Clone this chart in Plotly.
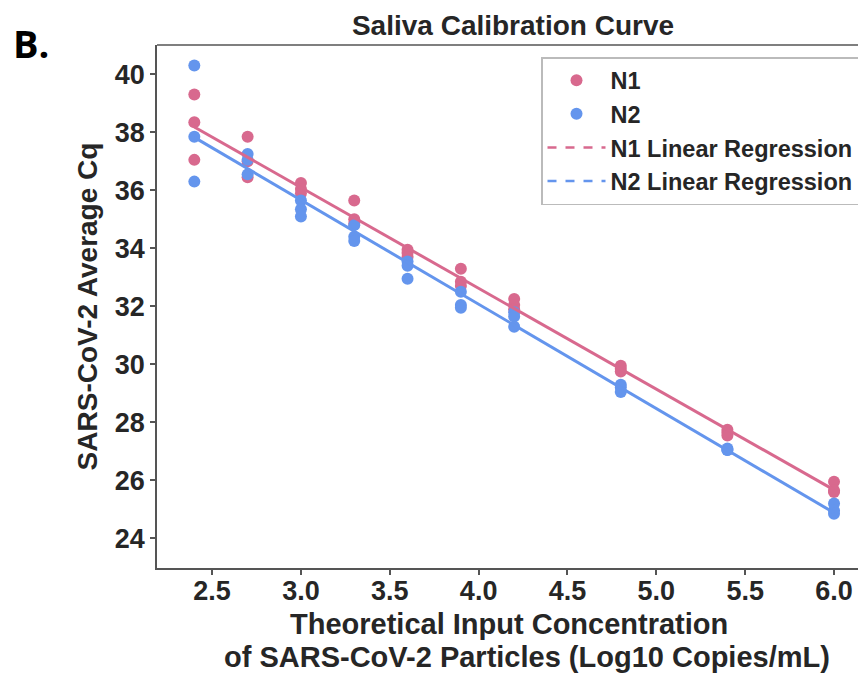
import numpy as np
import plotly.graph_objects as go

# log10 copies/mL, triplicate measurements
conc = [2.4, 2.7, 3.0, 3.3, 3.6, 3.9, 4.2, 4.8, 5.4, 6.0]
n1_rep1 = [39.3, 37.85, 36.25, 35.65, 33.95, 33.3, 32.25, 29.95, 27.75, 25.95]
n1_rep2 = [38.35, 37.0, 36.05, 35.0, 33.85, 32.85, 32.05, 29.85, 27.65, 25.65]
n1_rep3 = [37.05, 36.45, 35.9, 34.85, 33.7, 32.7, 31.9, 29.75, 27.55, 25.6]
n2_rep1 = [40.3, 37.25, 35.65, 34.8, 33.55, 32.5, 31.8, 29.3, 27.1, 25.2]
n2_rep2 = [37.85, 37.05, 35.35, 34.4, 33.4, 32.05, 31.65, 29.2, 27.05, 24.95]
n2_rep3 = [36.3, 36.55, 35.1, 34.25, 32.95, 31.95, 31.3, 29.05, 27.05, 24.85]

x_ticks = [2.5, 3.0, 3.5, 4.0, 4.5, 5.0, 5.5, 6.0]
y_ticks = [24, 26, 28, 30, 32, 34, 36, 38, 40]

PINK = "#D8698E"
BLUE = "#6495ED"
FONT = "Liberation Sans, Arial"
TXT = "#262626"

xs = conc * 3
n1 = n1_rep1 + n1_rep2 + n1_rep3
n2 = n2_rep1 + n2_rep2 + n2_rep3

fig = go.Figure()
fig.add_trace(go.Scatter(x=xs, y=n1, mode="markers", name="N1",
                         marker=dict(color=PINK, size=12)))
fig.add_trace(go.Scatter(x=xs, y=n2, mode="markers", name="N2",
                         marker=dict(color=BLUE, size=12)))
# legend-only entries (dashed, as in the reference legend)
fig.add_trace(go.Scatter(x=[None], y=[None], mode="lines", name="N1 Linear Regression",
                         line=dict(color=PINK, width=2.5, dash="dash")))
fig.add_trace(go.Scatter(x=[None], y=[None], mode="lines", name="N2 Linear Regression",
                         line=dict(color=BLUE, width=2.5, dash="dash")))

xfit = np.array([min(conc), max(conc)])
for ys, col in ((n1, PINK), (n2, BLUE)):
    m, b = np.polyfit(xs, ys, 1)
    fig.add_trace(go.Scatter(x=xfit, y=m * xfit + b, mode="lines", showlegend=False,
                             line=dict(color=col, width=3)))

axis_common = dict(showline=True, linecolor="#555555", linewidth=1.5,
                   ticks="outside", ticklen=5, tickcolor="#555555", tickwidth=1.5,
                   showgrid=False, zeroline=False, automargin=False,
                   tickfont=dict(family=FONT, size=27, color=TXT, weight="bold"))

# page offset (body margin) -> convert reference pixel positions to figure pixels
O = 8
W, H = 866 - O, 677 - O
L, T, B = 157 - O, 45 - O, 568 - O
PW, PH = W - L, B - T

def py(ref_pix):
    return (B - (ref_pix - O)) / PH

def px(ref_pix):
    return ((ref_pix - O) - L) / PW

fig.update_layout(
    width=W, height=H,
    margin=dict(l=L, r=0, t=T, b=H - B, autoexpand=False),
    paper_bgcolor="white", plot_bgcolor="white",
    title=dict(text="<b>Saliva Calibration Curve</b>", x=(513 - O) / W, xanchor="center",
               y=1 - (25 - O) / H, yanchor="middle",
               font=dict(family=FONT, size=28, color=TXT)),
    xaxis=dict(range=[2.19, 6.18], tickvals=x_ticks, ticktext=[f"{v:.1f}" for v in x_ticks],
               ticklabelstandoff=-7, **axis_common),
    yaxis=dict(range=[22.98, 41.01], tickvals=y_ticks,
               title=dict(text="<b>SARS-CoV-2 Average Cq</b>",
                          font=dict(family=FONT, size=28, color=TXT), standoff=9),
               **axis_common),
    legend=dict(x=px(541), xanchor="left", y=py(57), yanchor="top",
                bordercolor="#BBBBBB", borderwidth=1.5, bgcolor="white",
                font=dict(family=FONT, size=23.5, color=TXT, weight="bold"),
                tracegroupgap=0, itemwidth=58),
    shapes=[dict(type="line", xref="paper", yref="paper", x0=0, x1=1, y0=1, y1=1,
                 line=dict(color="#555555", width=1.5))],
    annotations=[
        dict(text="<b>B.</b>", xref="paper", yref="paper", x=px(11), y=py(43),
             xanchor="left", yanchor="middle", showarrow=False,
             font=dict(family="Open Sans, Noto Sans", size=38, color="black")),
        dict(text="<b>Theoretical Input Concentration</b>", xref="paper", yref="paper",
             x=px(509), y=py(624), xanchor="center", yanchor="middle", showarrow=False,
             font=dict(family=FONT, size=29, color=TXT)),
        dict(text="<b>of SARS-CoV-2 Particles (Log10 Copies/mL)</b>", xref="paper", yref="paper",
             x=px(527), y=py(657), xanchor="center", yanchor="middle", showarrow=False,
             font=dict(family=FONT, size=29, color=TXT)),
    ],
)

fig.write_html("out.html")
